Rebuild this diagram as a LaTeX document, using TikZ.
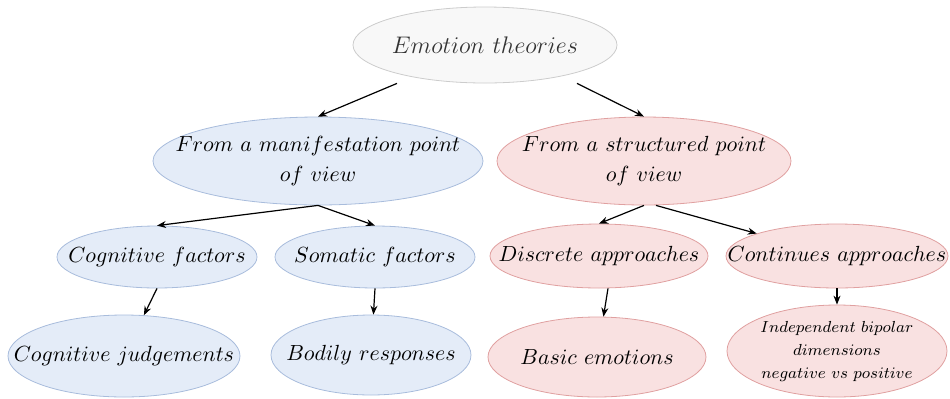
\documentclass[tikz,border=0pt]{standalone}
\usetikzlibrary{arrows.meta,shapes.geometric}
\definecolor{rootfill}{HTML}{F8F8F8}
\definecolor{rootdraw}{HTML}{CCCCCC}
\definecolor{roottext}{HTML}{333333}
\definecolor{manifill}{HTML}{E4ECF8}
\definecolor{manidraw}{HTML}{A8BCDC}
\definecolor{strufill}{HTML}{F9E1E1}
\definecolor{strudraw}{HTML}{E0A0A0}

\begin{document}
\begin{tikzpicture}[
  x=0.5pt,y=-0.5pt,
  theory/.style={ellipse,draw,inner xsep=-30pt,inner ysep=0pt,align=center},
  rootnode/.style={theory,fill=rootfill,draw=rootdraw,text=roottext,minimum width=132pt,minimum height=38pt,font=\fontsize{12.6}{15}\selectfont},
  manibox/.style={theory,fill=manifill,draw=manidraw,font=\fontsize{11.1}{15}\selectfont},
  strubox/.style={theory,fill=strufill,draw=strudraw,font=\fontsize{11.1}{15}\selectfont},
  arrow/.style={-{Stealth[length=4.5pt,width=3.5pt]},line width=0.6pt}
]
\useasboundingbox (0,0) rectangle (950,398);
\node[rootnode] (root) at (485,45) {$Emotion\ theories$};
\node[manibox,minimum width=165pt,minimum height=44pt] (mani) at (318,161)
  {$From\ a\ manifestation\ point$\\$of\ view$};
\node[strubox,minimum width=147pt,minimum height=44pt] (stru) at (644,161)
  {$From\ a\ structured\ point$\\$of\ view$};
\node[manibox,minimum width=100pt,minimum height=31pt] (cogf) at (157,257) {$Cognitive\ factors$};
\node[manibox,minimum width=100pt,minimum height=31pt] (soma) at (375,257) {$Somatic\ factors$};
\node[strubox,minimum width=109pt,minimum height=32pt] (disc) at (599,256) {$Discrete\ approaches$};
\node[strubox,minimum width=111pt,minimum height=32pt] (cont) at (837,256) {$Continues\ approaches$};
\node[manibox,minimum width=116pt,minimum height=41pt] (cogj) at (124,356) {$Cognitive\ judgements$};
\node[manibox,minimum width=100pt,minimum height=40pt] (body) at (371,355) {$Bodily\ responses$};
\node[strubox,minimum width=109pt,minimum height=40pt] (basic) at (597,357) {$Basic\ emotions$};
\node[strubox,minimum width=110pt,minimum height=46pt,font=\fontsize{7.7}{11.5}\selectfont] (indep) at (837,351)
  {$Independent\ bipolar$\\$dimensions$\\$negative\ vs\ positive$};
\draw[arrow] ([xshift=-44pt]root.south) -- (mani.north);
\draw[arrow] ([xshift=46pt]root.south) -- (stru.north);
\draw[arrow] (mani.south) -- (cogf.north);
\draw[arrow] (mani.south) -- (soma.north);
\draw[arrow] (stru.south) -- (disc.north);
\draw[arrow] ([xshift=6pt]stru.south) -- (cont);
\draw[arrow] (cogf.south) -- (cogj);
\draw[arrow] (soma.south) -- (body);
\draw[arrow] ([xshift=4.5pt]disc.south) -- (basic);
\draw[arrow] (cont.south) -- (indep.north);
\end{tikzpicture}
\end{document}
